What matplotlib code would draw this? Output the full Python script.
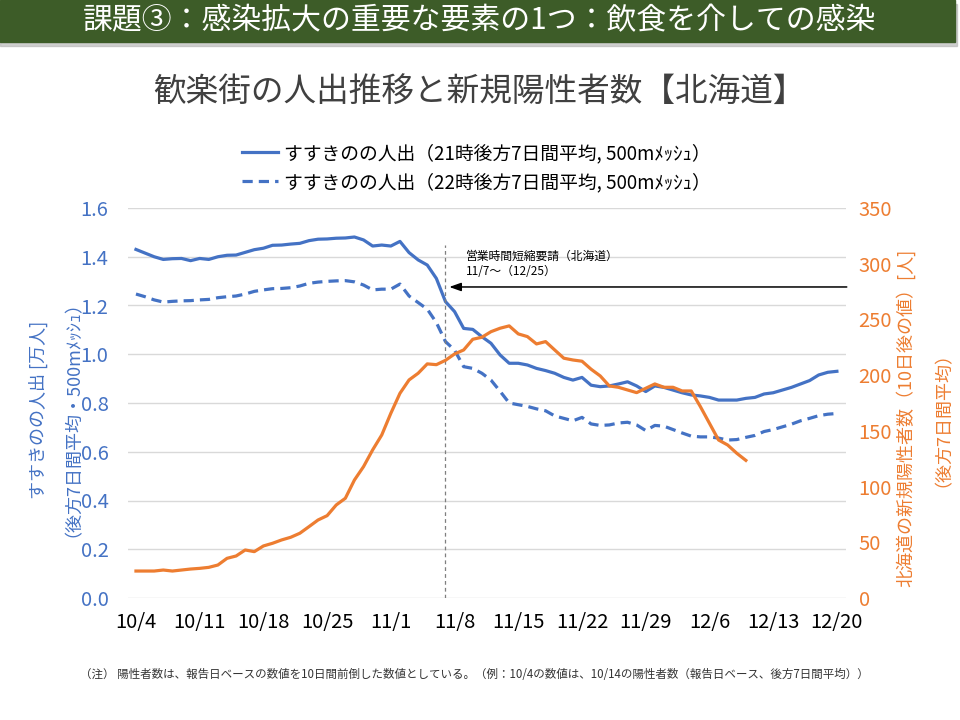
import numpy as np
import pandas as pd
import matplotlib
matplotlib.use('Agg')
import matplotlib.pyplot as plt
from matplotlib.patches import Rectangle

plt.rcParams['font.family'] = ['Noto Sans CJK JP', 'DejaVu Sans']

# =============================================================================
# Data
# =============================================================================

DATES = pd.date_range('2020-10-04', '2020-12-20', freq='D')

SUSUKINO_21 = [1.430, 1.415, 1.400, 1.389, 1.392, 1.393, 1.384, 1.393, 1.389, 1.400,
               1.406, 1.407, 1.418, 1.429, 1.435, 1.447, 1.448, 1.452, 1.455, 1.466,
               1.472, 1.473, 1.476, 1.477, 1.481, 1.469, 1.444, 1.448, 1.444, 1.463,
               1.417, 1.387, 1.366, 1.311, 1.216, 1.175, 1.106, 1.102, 1.072, 1.045,
               0.997, 0.963, 0.963, 0.956, 0.942, 0.933, 0.922, 0.905, 0.894, 0.905,
               0.873, 0.867, 0.870, 0.878, 0.887, 0.870, 0.847, 0.870, 0.864, 0.853,
               0.842, 0.833, 0.829, 0.823, 0.812, 0.812, 0.812, 0.819, 0.823, 0.837,
               0.842, 0.853, 0.864, 0.878, 0.892, 0.915, 0.926, 0.930]

SUSUKINO_22 = [1.247, 1.236, 1.223, 1.214, 1.217, 1.219, 1.220, 1.223, 1.225, 1.232,
               1.236, 1.239, 1.247, 1.258, 1.264, 1.269, 1.270, 1.273, 1.280, 1.291,
               1.296, 1.299, 1.301, 1.302, 1.297, 1.284, 1.264, 1.267, 1.267, 1.288,
               1.239, 1.212, 1.185, 1.130, 1.052, 1.017, 0.949, 0.942, 0.922, 0.894,
               0.848, 0.800, 0.793, 0.786, 0.776, 0.768, 0.747, 0.737, 0.727, 0.741,
               0.714, 0.708, 0.710, 0.718, 0.721, 0.710, 0.687, 0.708, 0.705, 0.691,
               0.677, 0.664, 0.661, 0.661, 0.656, 0.648, 0.650, 0.659, 0.667, 0.683,
               0.691, 0.702, 0.713, 0.727, 0.737, 0.748, 0.754, 0.757]

POSITIVE = [24.2, 24.2, 24.2, 25.1, 24.2, 25.1, 26.0, 26.6, 27.5, 29.6,
            35.6, 37.7, 43.1, 41.6, 46.7, 49.1, 52.1, 54.5, 58.1, 64.0,
            70.0, 73.9, 83.5, 89.5, 105.9, 117.9, 132.9, 146.3, 165.8, 183.7,
            195.7, 201.7, 210.1, 209.4, 213.3, 219.0, 222.6, 232.2, 234.0, 239.0,
            242.1, 244.2, 237.0, 234.6, 228.0, 230.1, 222.6, 215.2, 213.6, 212.5,
            205.3, 199.3, 190.3, 189.1, 186.7, 184.3, 188.2, 192.1, 189.1, 189.1,
            185.8, 185.8, 171.8, 156.8, 141.8, 137.3, 129.9, 123.5]

TICK_DATES = ['2020-10-04', '2020-10-11', '2020-10-18', '2020-10-25', '2020-11-01', '2020-11-08',
              '2020-11-15', '2020-11-22', '2020-11-29', '2020-12-06', '2020-12-13', '2020-12-20']
TICK_LABELS = ['10/4', '10/11', '10/18', '10/25', '11/1', '11/8',
               '11/15', '11/22', '11/29', '12/6', '12/13', '12/20']

REQUEST_DATE = '2020-11-07'

BLUE = '#4472C4'
ORANGE = '#ED7D31'

# =============================================================================
# Figure
# =============================================================================

fig = plt.figure(figsize=(9.6, 7.2), dpi=100)

# header band
fig.patches.append(Rectangle((0, 1 - 46/720), 957/960, 42/720, transform=fig.transFigure,
                             color='#b0b0b0', alpha=0.6, zorder=0))
fig.patches.append(Rectangle((0, 1 - 42/720), 955/960, 42/720, transform=fig.transFigure,
                             color='#3D5C28', zorder=1))
fig.text(0.5, 1 - 21/720, '課題③：感染拡大の重要な要素の1つ：飲食を介しての感染',
         color='white', fontsize=21.5, ha='center', va='center')
fig.text(0.5, 1 - 92/720, '歓楽街の人出推移と新規陽性者数【北海道】',
         color='#404040', fontsize=23.5, ha='center', va='center')

ax = fig.add_axes([128/960, 1 - 598/720, (846 - 128)/960, (598 - 208)/720])
ax2 = ax.twinx()

ax.plot(DATES, SUSUKINO_21, color=BLUE, lw=2.3, label='すすきのの人出（21時後方7日間平均, 500mﾒｯｼｭ）')
ax.plot(DATES, SUSUKINO_22, color=BLUE, lw=2.3, dashes=(3.2, 1.9),
        label='すすきのの人出（22時後方7日間平均, 500mﾒｯｼｭ）')
ax2.plot(DATES[:len(POSITIVE)], POSITIVE, color=ORANGE, lw=2.3)

ax.set_ylim(0, 1.6)
ax.set_yticks(np.arange(0, 1.61, 0.2))
ax.set_yticklabels(['%.1f' % v for v in np.arange(0, 1.61, 0.2)])
ax2.set_ylim(0, 350)
ax2.set_yticks(np.arange(0, 351, 50))

x0 = DATES[0] - pd.Timedelta(hours=21)
x1 = DATES[-1] + pd.Timedelta(hours=24)
ax.set_xlim(x0, x1)
ax.set_xticks(pd.to_datetime(TICK_DATES))
ax.set_xticklabels(TICK_LABELS)

ax.grid(axis='y', color='#D9D9D9', lw=1)
ax.set_axisbelow(True)
for a in (ax, ax2):
    for s in a.spines.values():
        s.set_visible(False)
ax.tick_params(axis='x', length=0, pad=10, labelsize=14.5, labelcolor='black')
ax.tick_params(axis='y', length=0, pad=14, labelsize=14.5, labelcolor=BLUE)
ax2.tick_params(axis='y', length=0, pad=9, labelsize=14.5, labelcolor=ORANGE)

# 11/7 marker and annotation
req = pd.Timestamp(REQUEST_DATE)
ax.vlines(req, 0, 1.45, color='#7f7f7f', lw=0.9, linestyles=(0, (3, 2.5)))
ax.annotate('', xy=(req + pd.Timedelta(hours=10), 1.276), xytext=(x1 + pd.Timedelta(hours=2), 1.276),
            arrowprops=dict(arrowstyle='-|>,head_length=0.7,head_width=0.25', color='black', lw=1.1,
                            shrinkA=0, shrinkB=0),
            annotation_clip=False)
ax.text(req + pd.Timedelta(days=2.3), 1.43, '営業時間短縮要請（北海道）\n11/7～（12/25）',
        fontsize=8.5, va='top', ha='left', linespacing=1.25, color='black')

# legend
fig.legend(*ax.get_legend_handles_labels(), loc='upper left', bbox_to_anchor=(242/960, 1 - 143/720),
           frameon=False, fontsize=13.5, handlelength=1.9, handletextpad=0.35, labelspacing=0.42,
           borderaxespad=0, borderpad=0)

# axis titles
fig.text(38/960, 1 - 410/720, 'すすきのの人出 [万人]', rotation=90, color=BLUE,
         fontsize=13, ha='center', va='center')
fig.text(64/960, 1 - 410/720, '（後方7日間平均・500mﾒｯｼｭ）', rotation=90, color=BLUE,
         fontsize=13, ha='center', va='center')
fig.text(905/960, 1 - 418/720, '北海道の新規陽性者数（10日後の値）[人]', rotation=90, color=ORANGE,
         fontsize=13, ha='center', va='center')
fig.text(934/960, 1 - 410/720, '（後方7日間平均）', rotation=90, color=ORANGE,
         fontsize=13, ha='center', va='center')

fig.text(80/960, 1 - 675/720,
         '（注） 陽性者数は、報告日ベースの数値を10日間前倒した数値としている。（例：10/4の数値は、10/14の陽性者数（報告日ベース、後方7日間平均））',
         fontsize=8.3, color='#333333', ha='left', va='center')

fig.savefig('out.png', dpi=100)
